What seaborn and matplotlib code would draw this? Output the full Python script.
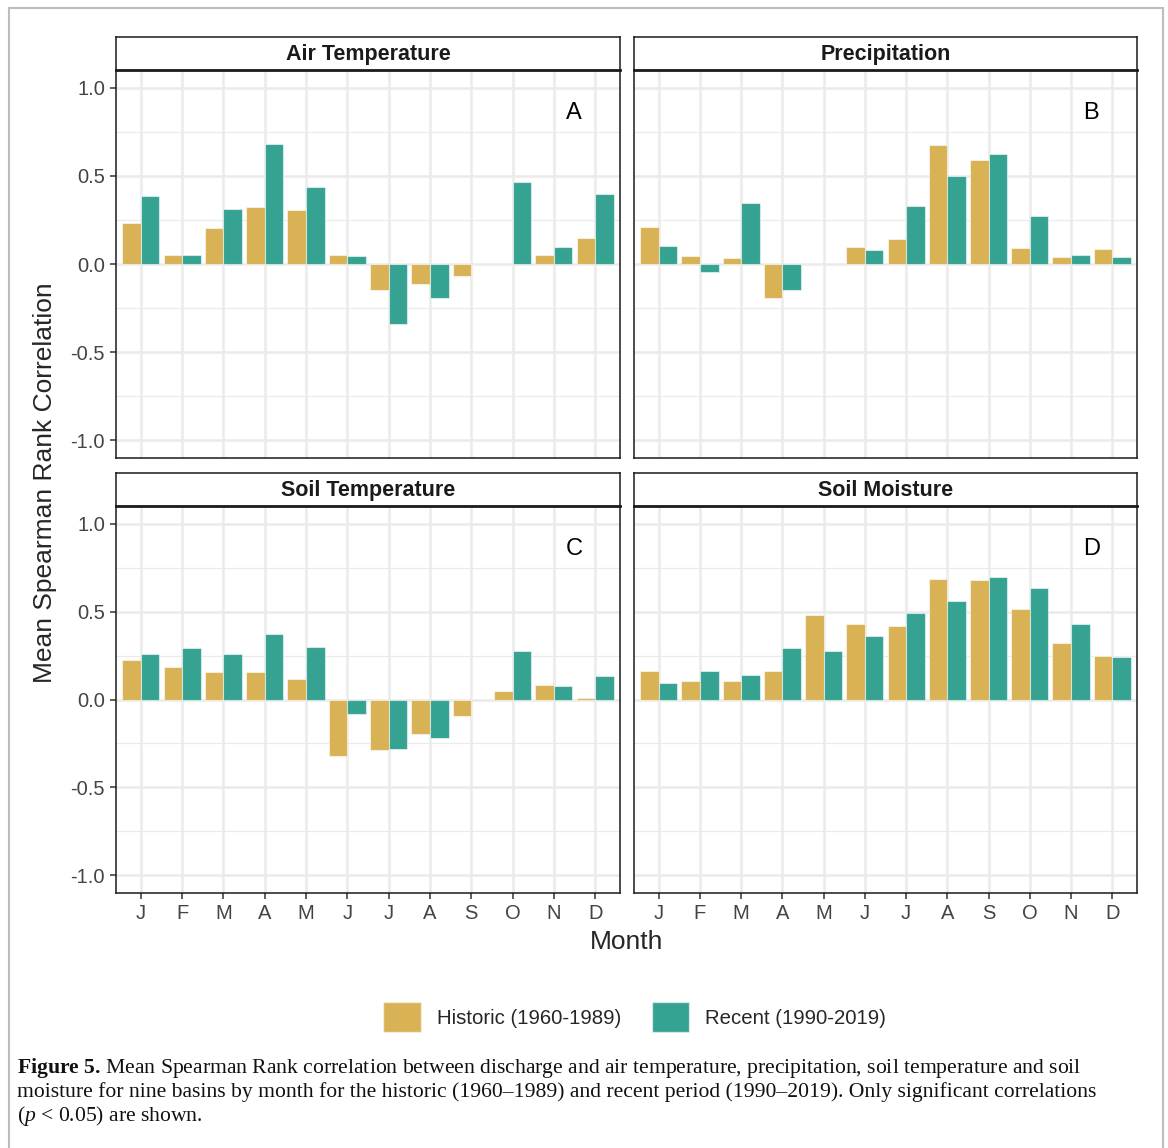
import numpy as np
import pandas as pd
import matplotlib
matplotlib.use('Agg')
import matplotlib.pyplot as plt
from matplotlib.patches import Patch, Rectangle
from matplotlib.ticker import MultipleLocator
import seaborn as sns

# ── data ──
month_keys = ['Jan', 'Feb', 'Mar', 'Apr', 'May', 'Jun',
              'Jul', 'Aug', 'Sep', 'Oct', 'Nov', 'Dec']
month_labels = ['J', 'F', 'M', 'A', 'M', 'J', 'J', 'A', 'S', 'O', 'N', 'D']
periods = ['Historic (1960-1989)', 'Recent (1990-2019)']
variables = ['Air Temperature', 'Precipitation', 'Soil Temperature', 'Soil Moisture']
panel_letters = ['A', 'B', 'C', 'D']

nan = np.nan
air_hist = [0.23, 0.05, 0.205, 0.325, 0.305, 0.05, -0.15, -0.113, -0.066, nan, 0.053, 0.145]
air_recent = [0.385, 0.05, 0.311, 0.68, 0.434, 0.047, -0.342, -0.194, nan, 0.466, 0.094, 0.396]
precip_hist = [0.211, 0.045, 0.036, -0.194, nan, 0.094, 0.143, 0.675, 0.59, 0.089, 0.042, 0.085]
precip_recent = [0.10, -0.047, 0.345, -0.145, nan, 0.077, 0.328, 0.50, 0.625, 0.272, 0.049, 0.042]
soilt_hist = [0.223, 0.185, 0.157, 0.158, 0.115, -0.323, -0.285, -0.198, -0.096, 0.051, 0.085, 0.01]
soilt_recent = [0.258, 0.294, 0.258, 0.372, 0.30, -0.085, -0.281, -0.221, nan, 0.274, 0.074, 0.132]
soilm_hist = [0.162, 0.108, 0.106, 0.16, 0.479, 0.428, 0.415, 0.685, 0.679, 0.517, 0.319, 0.247]
soilm_recent = [0.096, 0.162, 0.14, 0.294, 0.274, 0.362, 0.489, 0.562, 0.696, 0.632, 0.428, 0.243]

series = {
    'Air Temperature': (air_hist, air_recent),
    'Precipitation': (precip_hist, precip_recent),
    'Soil Temperature': (soilt_hist, soilt_recent),
    'Soil Moisture': (soilm_hist, soilm_recent),
}

rows = []
for var, (hist, rec) in series.items():
    for m, h, r in zip(month_keys, hist, rec):
        rows.append({'variable': var, 'month': m, 'period': periods[0], 'value': h})
        rows.append({'variable': var, 'month': m, 'period': periods[1], 'value': r})
df = pd.DataFrame(rows).dropna()

gold = '#D9B255'
teal = '#36A292'
edge = (1, 1, 1, 0.55)

sns.set_style('white')
plt.rcParams['font.family'] = ['Liberation Sans', 'DejaVu Sans']
plt.rcParams['axes.unicode_minus'] = False
plt.rcParams['mathtext.fontset'] = 'custom'
plt.rcParams['mathtext.rm'] = 'Liberation Serif'
plt.rcParams['mathtext.it'] = 'Liberation Serif:italic'
plt.rcParams['mathtext.bf'] = 'Liberation Serif:bold'

W, H = 1168, 1148
fig = plt.figure(figsize=(W / 100, H / 100), dpi=100)
fig.patch.set_facecolor('white')


def box(x0, y0, x1, y1):
    return [x0 / W, 1 - y1 / H, (x1 - x0) / W, (y1 - y0) / H]


cols = [(116, 620), (634, 1137)]
rows_px = [(37, 70, 458), (473, 506, 893)]

for i, var in enumerate(variables):
    r, c = divmod(i, 2)
    x0, x1 = cols[c]
    s0, p0, p1 = rows_px[r]
    ax = fig.add_axes(box(x0, p0, x1, p1))
    sns.barplot(data=df[df['variable'] == var], x='month', y='value', hue='period',
                order=month_keys, hue_order=periods, palette=[gold, teal],
                saturation=1, width=0.9, errorbar=None, legend=False, ax=ax,
                edgecolor=edge, linewidth=0.8)
    ax.set_xlim(-0.6, 11.6)
    ax.set_ylim(-1.1, 1.1)
    ax.set_yticks([-1, -0.5, 0, 0.5, 1])
    ax.yaxis.set_minor_locator(MultipleLocator(0.25))
    ax.set_axisbelow(True)
    ax.grid(True, which='major', axis='both', color='#ebebeb', linewidth=1.8)
    ax.grid(True, which='minor', axis='y', color='#ebebeb', linewidth=0.9)
    ax.set_xlabel('')
    ax.set_ylabel('')
    for sp in ax.spines.values():
        sp.set_color('#1a1a1a')
        sp.set_linewidth(1.1)
    ax.tick_params(which='minor', length=0)
    ax.tick_params(which='major', direction='out', length=4, width=1.1,
                   color='#333333', labelcolor='#444444', labelsize=14.5, pad=4)
    if c == 0:
        ax.set_yticklabels(['-1.0', '-0.5', '0.0', '0.5', '1.0'])
        ax.tick_params(left=True)
    else:
        ax.tick_params(left=False, labelleft=False)
    if r == 1:
        ax.set_xticks(range(12))
        ax.set_xticklabels(month_labels)
        ax.tick_params(bottom=True)
    else:
        ax.tick_params(bottom=False, labelbottom=False)
    ax.text(0.909, 0.889, panel_letters[i], transform=ax.transAxes,
            ha='center', va='center', fontsize=17, color='black')

    # facet strip
    st = fig.add_axes(box(x0, s0, x1, p0))
    st.set_xticks([])
    st.set_yticks([])
    st.set_facecolor('white')
    for sp in st.spines.values():
        sp.set_color('#1a1a1a')
        sp.set_linewidth(1.1)
    st.spines['bottom'].set_linewidth(2.0)
    st.text(0.5, 0.47, var, ha='center', va='center', fontsize=15.5,
            fontweight='bold', color='#1a1a1a')

fig.text(45 / W, 1 - 483 / H, 'Mean Spearman Rank Correlation', rotation=90,
         ha='center', va='center', fontsize=19)
fig.text(626.5 / W, 1 - 942 / H, 'Month', ha='center', va='center', fontsize=19)

handles = [Patch(facecolor=gold, edgecolor=edge), Patch(facecolor=teal, edgecolor=edge)]
fig.legend(handles, periods, loc='center', bbox_to_anchor=(634.5 / W, 1 - 1017 / H),
           ncol=2, frameon=False, fontsize=14.7, handlelength=1.85, handleheight=1.85,
           handletextpad=0.78, columnspacing=1.5)

cap_lines = [
    r'$\mathbf{Figure\ 5.}\,$Mean Spearman Rank correlation between discharge and air temperature, precipitation, soil temperature and soil',
    'moisture for nine basins by month for the historic (1960\u20131989) and recent period (1990\u20132019). Only significant correlations',
    r'($p$ < 0.05) are shown.',
]
for k, line in enumerate(cap_lines):
    fig.text(17 / W, 1 - (1068 + 24 * k) / H, line, ha='left', va='center',
             fontsize=15.6, family='Liberation Serif', color='#111111')

fig.patches.append(Rectangle((9 / W, -0.02), (1163 - 9) / W, 1 - 8 / H + 0.02,
                             transform=fig.transFigure, fill=False,
                             edgecolor='#bdbdbd', linewidth=1.5))

fig.savefig('out.png', dpi=100, facecolor='white')
